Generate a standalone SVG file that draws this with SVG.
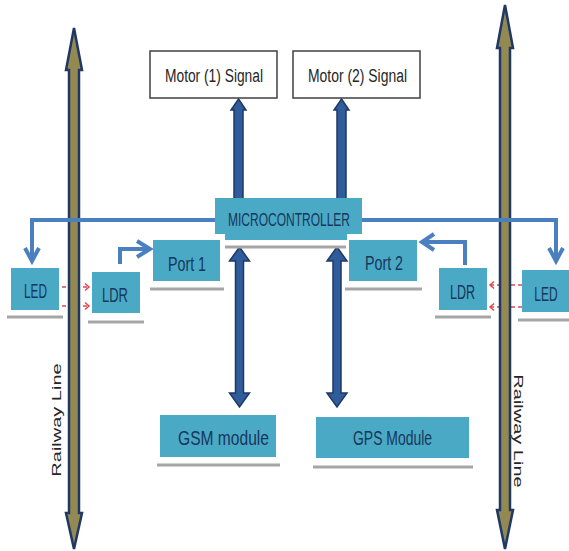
<svg xmlns="http://www.w3.org/2000/svg" width="569" height="551" viewBox="0 0 569 551">
<style>
.box{fill:#4aa9c4}
.lbl{font-family:"Liberation Sans",Arial,sans-serif;font-size:20px;fill:#17375e;text-anchor:middle}
.mlbl{font-family:"Liberation Sans",Arial,sans-serif;font-size:18px;fill:#262626;text-anchor:middle}
.rlbl{font-family:"Liberation Sans",Arial,sans-serif;font-size:20px;fill:#262626;text-anchor:middle}
.ul{stroke:#a6a6a6;stroke-width:3}
.mbox{fill:#fff;stroke:#404040;stroke-width:1.5}
.conn{fill:none;stroke:#4a7fc0;stroke-width:4}
.head{fill:none;stroke:#4a7fc0;stroke-width:4;stroke-linejoin:miter}
.dash{fill:none;stroke:#e0474c;stroke-width:1.5;stroke-dasharray:4 3}
.dhead{fill:none;stroke:#e0474c;stroke-width:1.5}
.big{fill:#2f5d9c;stroke:#1f3864;stroke-width:1.5;stroke-linejoin:miter}
.rail{fill:#938953;stroke:#1f3864;stroke-width:2.5;stroke-linejoin:miter}
</style>

<g id="connectors-under">
  <path class="dash" d="M55,287 H88 M55,306 H88"/>
  <path class="dhead" d="M85,283.5 L89,287 L85,290.5 M85,302.5 L89,306 L85,309.5"/>
  <path class="dash" d="M522,285 H491 M522,307 H491"/>
  <path class="dhead" d="M494,281.5 L490,285 L494,288.5 M494,303.5 L490,307 L494,310.5"/>
</g>

<g id="railway-left">
  <polygon class="rail" points="74,28 82,70 79,70 79,513 82,513 74,549 66,513 69,513 69,70 66,70"/>
  <text class="rlbl" transform="translate(61,420) rotate(-90) scale(1,0.6)">Railway Line</text>
</g>
<g id="railway-right">
  <polygon class="rail" points="505,5 513,48 510,48 510,510 513,510 505,549 497,510 500,510 500,48 497,48"/>
  <text class="rlbl" transform="translate(514,431) rotate(90) scale(1,0.6)">Railway Line</text>
</g>

<g id="connectors">
  <path class="conn" d="M215,220 H32 V258"/>
  <path class="head" d="M25,248 L32,261 L39,248"/>
  <path class="conn" d="M362,220 H556 V258"/>
  <path class="head" d="M549,248 L556,261 L563,248"/>
  <path class="conn" d="M120,264 V249 H147"/>
  <path class="head" d="M137,241 L150,249 L137,257"/>
  <path class="conn" d="M465,265 V242 H425"/>
  <path class="head" d="M434,234 L422,242 L434,250"/>
  <polygon class="big" points="238.5,99 246,110 243,110 243,199 234,199 234,110 231,110"/>
  <polygon class="big" points="341.5,99 349,110 346,110 346,199 337,199 337,110 334,110"/>
  <polygon class="big" points="239.5,247 249.5,261 243.5,261 243.5,393 249.5,393 239.5,407 229.5,393 235.5,393 235.5,261 229.5,261"/>
  <polygon class="big" points="337,247 347,261 341,261 341,393 347,393 337,407 327,393 333,393 333,261 327,261"/>
</g>

<g id="motor1">
  <rect class="mbox" x="150" y="51" width="127" height="47"/>
  <text class="mlbl" x="214" y="82" textLength="98" lengthAdjust="spacingAndGlyphs">Motor (1) Signal</text>
</g>
<g id="motor2">
  <rect class="mbox" x="293" y="51" width="127" height="47"/>
  <text class="mlbl" x="357.5" y="82" textLength="99" lengthAdjust="spacingAndGlyphs">Motor (2) Signal</text>
</g>

<g id="microcontroller">
  <path class="box" d="M215,198 H362 V234 H347 V240 H225 V234 H215 Z"/>
  <line class="ul" x1="225" y1="247" x2="346" y2="247"/>
  <text class="lbl" x="289" y="226" textLength="122" lengthAdjust="spacingAndGlyphs" style="font-size:19px">MICROCONTROLLER</text>
</g>

<g id="led-left">
  <rect class="box" x="11" y="268" width="48" height="42"/>
  <line class="ul" x1="7" y1="317" x2="63" y2="317"/>
  <text class="lbl" x="35.5" y="298" textLength="23" lengthAdjust="spacingAndGlyphs">LED</text>
</g>
<g id="ldr-left">
  <rect class="box" x="92" y="272" width="48" height="41"/>
  <line class="ul" x1="88" y1="322" x2="144" y2="322"/>
  <text class="lbl" x="115" y="302" textLength="26" lengthAdjust="spacingAndGlyphs">LDR</text>
</g>
<g id="port1">
  <rect class="box" x="153" y="240" width="67" height="41"/>
  <line class="ul" x1="150" y1="289" x2="224" y2="289"/>
  <text class="lbl" x="187" y="271" textLength="38" lengthAdjust="spacingAndGlyphs">Port 1</text>
</g>
<g id="port2">
  <rect class="box" x="349" y="240" width="68" height="41"/>
  <line class="ul" x1="345" y1="289" x2="422" y2="289"/>
  <text class="lbl" x="384" y="270" textLength="38" lengthAdjust="spacingAndGlyphs">Port 2</text>
</g>
<g id="ldr-right">
  <rect class="box" x="439" y="268" width="48" height="42"/>
  <line class="ul" x1="435" y1="317" x2="491" y2="317"/>
  <text class="lbl" x="462.5" y="299" textLength="25" lengthAdjust="spacingAndGlyphs">LDR</text>
</g>
<g id="led-right">
  <rect class="box" x="522" y="270" width="47" height="42"/>
  <line class="ul" x1="518" y1="320" x2="569" y2="320"/>
  <text class="lbl" transform="translate(546,301) scale(0.6,1)" x="0" y="0">LED</text>
</g>
<g id="gsm">
  <rect class="box" x="160" y="415" width="116" height="42"/>
  <line class="ul" x1="157" y1="465" x2="280" y2="465"/>
  <text class="lbl" x="223.5" y="445" textLength="91" lengthAdjust="spacingAndGlyphs">GSM module</text>
</g>
<g id="gps">
  <rect class="box" x="316" y="417" width="153" height="41"/>
  <line class="ul" x1="313" y1="467" x2="473" y2="467"/>
  <text class="lbl" x="392.5" y="445" textLength="79" lengthAdjust="spacingAndGlyphs">GPS Module</text>
</g>
</svg>
